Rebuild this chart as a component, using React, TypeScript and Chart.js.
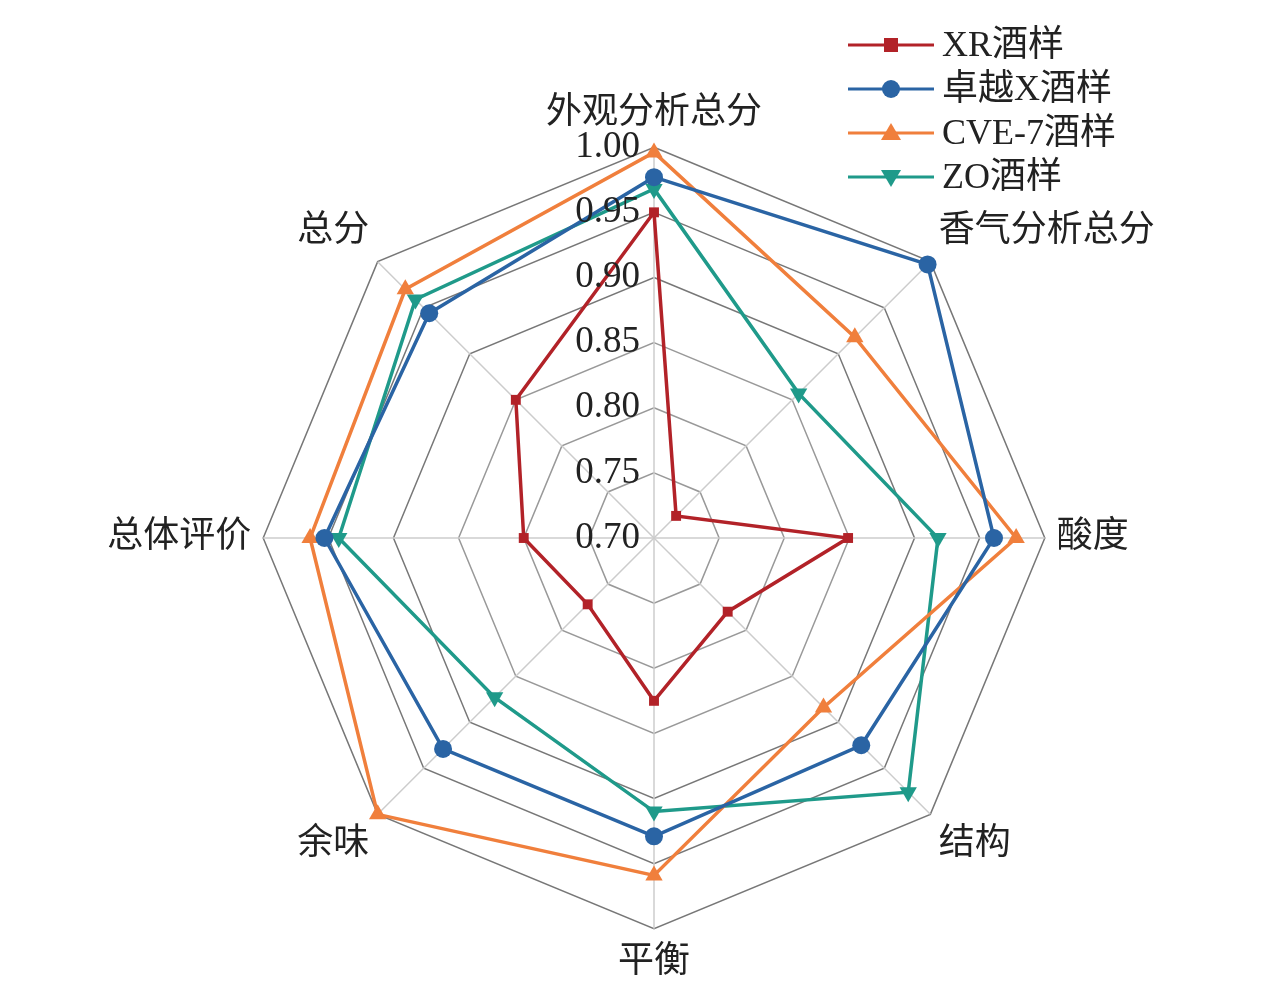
import React, { useEffect, useRef } from "react";
import { Chart, registerables } from "chart.js";
Chart.register(...registerables);

const categories = ["外观分析总分", "香气分析总分", "酸度", "结构", "平衡", "余味", "总体评价", "总分"];
const seriesNames = ["XR酒样", "卓越X酒样", "CVE-7酒样", "ZO酒样"];
const xr = [0.95, 0.724, 0.849, 0.78, 0.825, 0.772, 0.80, 0.85];
const zhuoyue = [0.977, 0.997, 0.961, 0.925, 0.929, 0.929, 0.953, 0.944];
const cve = [0.996, 0.918, 0.978, 0.884, 0.959, 1.0, 0.964, 0.97];
const zo = [0.968, 0.857, 0.918, 0.976, 0.91, 0.873, 0.942, 0.959];
const tickValues = [0.7, 0.75, 0.8, 0.85, 0.9, 0.95, 1.0];

const colors = ["#b22228", "#2a64a4", "#f07f3c", "#1f9a8a"];
const styles: any[] = ["rect", "circle", "triangle", "triangle"];
const radii = [7, 9, 10, 10];
const rotations = [0, 0, 0, 180];
const serif = "'Liberation Serif', 'DejaVu Serif', serif";
const cjk = "'Liberation Serif', 'Noto Sans CJK SC', serif";

const overlay = {
  id: "overlay",
  afterDraw(chart: any) {
    const ctx = chart.ctx;
    const s = chart.scales.r;
    ctx.save();
    ctx.fillStyle = "#222";
    ctx.font = `37px ${serif}`;
    ctx.textAlign = "right";
    ctx.textBaseline = "middle";
    tickValues.forEach((v) => {
      const d = s.getDistanceFromCenterForValue(v);
      ctx.fillText(v.toFixed(2), s.xCenter - 14, s.yCenter - d);
    });
    const lx = 848, ly = 45, gap = 44;
    seriesNames.forEach((n, i) => {
      const y = ly + i * gap;
      ctx.strokeStyle = colors[i];
      ctx.lineWidth = 3;
      ctx.beginPath();
      ctx.moveTo(lx, y);
      ctx.lineTo(lx + 86, y);
      ctx.stroke();
      ctx.fillStyle = colors[i];
      const cx = lx + 43;
      const r = radii[i];
      ctx.beginPath();
      if (i === 0) ctx.rect(cx - r, y - r, 2 * r, 2 * r);
      else if (i === 1) ctx.arc(cx, y, r, 0, Math.PI * 2);
      else if (i === 2) { ctx.moveTo(cx, y - r); ctx.lineTo(cx + r, y + r * 0.7); ctx.lineTo(cx - r, y + r * 0.7); ctx.closePath(); }
      else { ctx.moveTo(cx, y + r); ctx.lineTo(cx + r, y - r * 0.7); ctx.lineTo(cx - r, y - r * 0.7); ctx.closePath(); }
      ctx.fill();
      ctx.fillStyle = "#222";
      ctx.font = `36px ${cjk}`;
      ctx.textAlign = "left";
      ctx.fillText(n, lx + 94, y + 2);
    });
    ctx.restore();
  },
};

export default function App() {
  const ref = useRef<HTMLCanvasElement>(null);
  useEffect(() => {
    const data = [xr, zhuoyue, cve, zo];
    const chart = new Chart(ref.current!, {
      type: "radar",
      data: {
        labels: categories,
        datasets: data.map((d, i) => ({
          label: seriesNames[i],
          data: d,
          borderColor: colors[i],
          backgroundColor: colors[i],
          fill: false,
          borderWidth: 3.5,
          pointStyle: styles[i],
          pointRadius: radii[i],
          pointRotation: rotations[i],
          pointBorderWidth: 0,
        })),
      },
      options: {
        animation: false,
        responsive: false,
        layout: { padding: { top: 92, left: 46, right: 14, bottom: 4 } },
        plugins: { legend: { display: false }, tooltip: { enabled: false } },
        scales: {
          r: {
            min: 0.7,
            max: 1.0,
            ticks: { display: false, stepSize: 0.05 },
            grid: { color: (c: any) => (c.index >= 4 ? "#777" : "#999"), lineWidth: 1.5 },
            angleLines: { color: "#ccc", lineWidth: 1.5 },
            pointLabels: { font: { size: 36, family: cjk }, color: "#222", padding: 12 },
          },
        },
      },
      plugins: [overlay],
    });
    return () => chart.destroy();
  }, []);
  return (
    <div style={{ position: "fixed", left: 0, top: 0 }}>
      <canvas ref={ref} width={1276} height={989} style={{ width: 1276, height: 989 }} />
    </div>
  );
}
